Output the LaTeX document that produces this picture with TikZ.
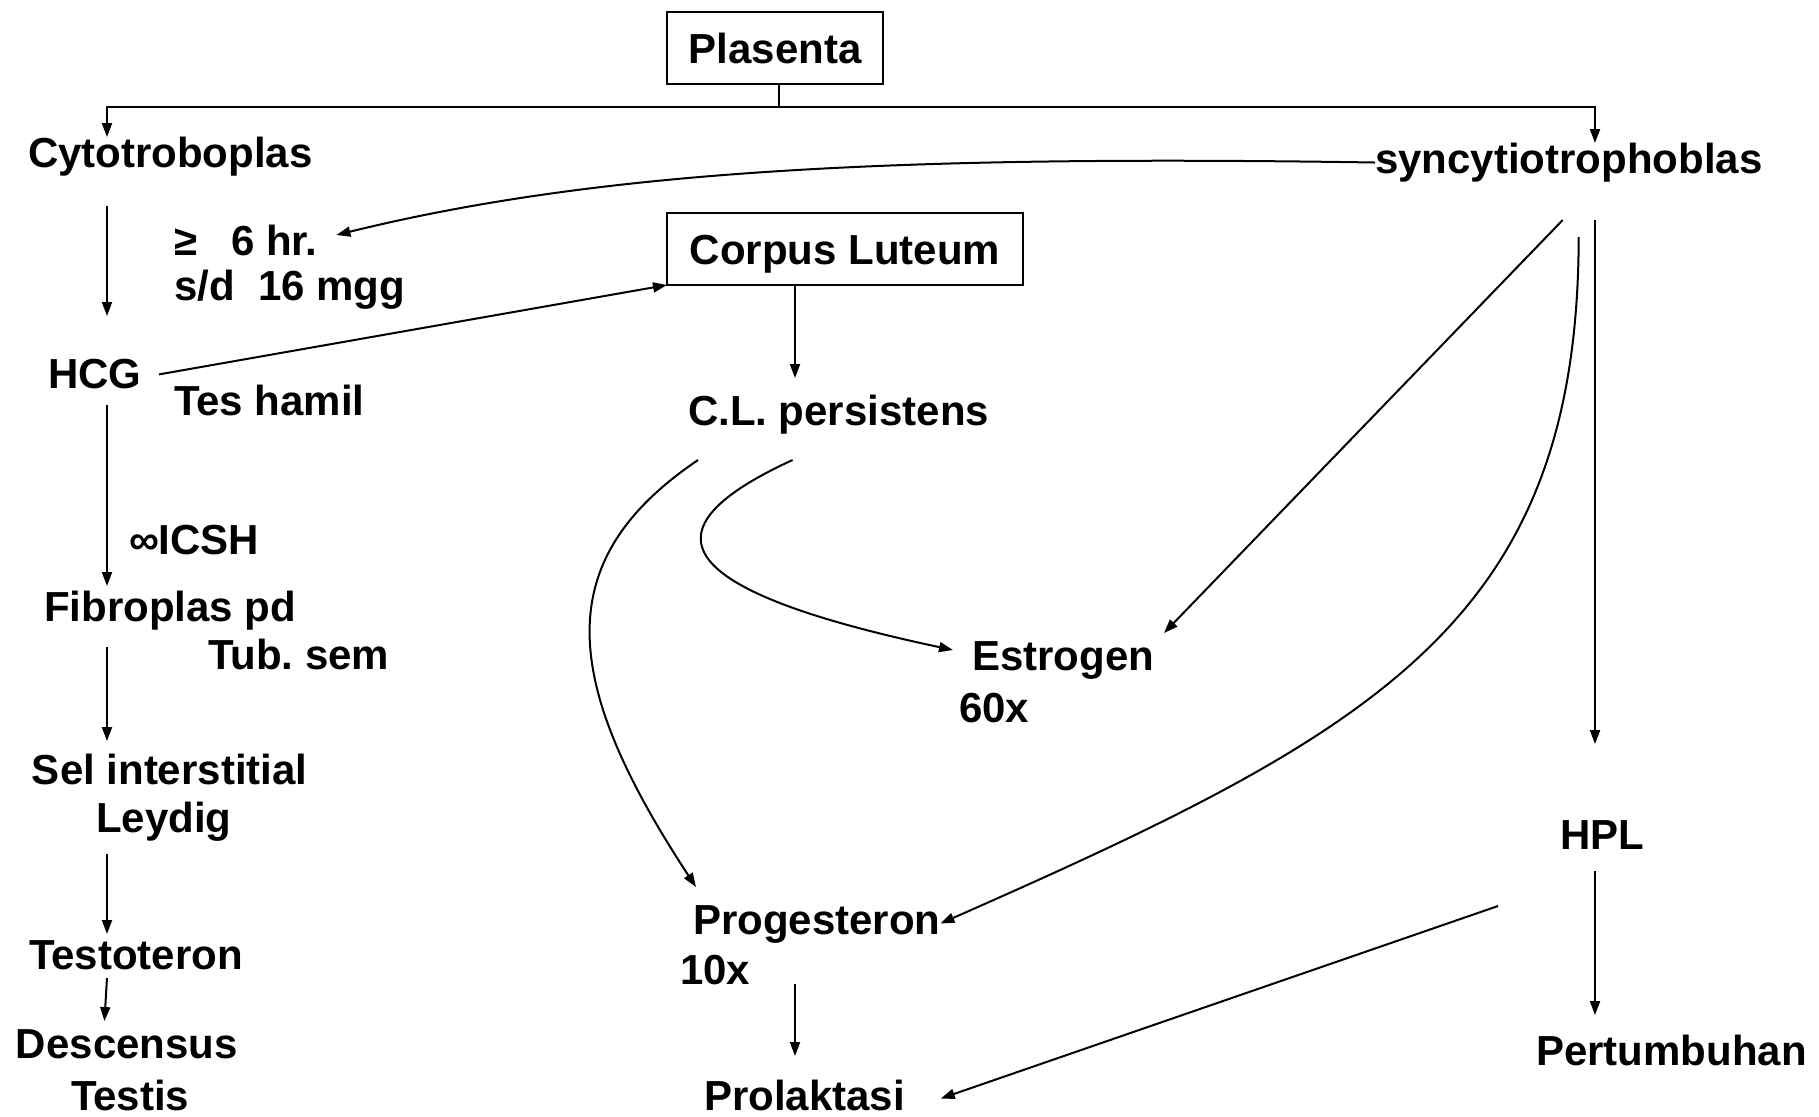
\documentclass[tikz,border=0pt]{standalone}
\usepackage{fontspec}
\setmainfont{Liberation Sans}
\usetikzlibrary{arrows.meta}
\frenchspacing

\tikzset{every picture/.style={line width=1pt}}
\tikzset{
  lbl/.style={anchor=base west, inner sep=0pt, outer sep=0pt, text height=15pt, text depth=4.5pt, font=\fontsize{21pt}{25pt}\selectfont\bfseries},
  boxed/.style={draw, inner sep=0pt, outer sep=0pt, minimum height=36pt, text height=15.5pt, text depth=0pt, font=\fontsize{21pt}{25pt}\selectfont\bfseries},
  arr/.style={-{Triangle[length=7pt,width=5pt]}}
}

\begin{document}
\begin{tikzpicture}[x=0.5pt,y=0.5pt,yscale=-1]
\useasboundingbox (0,0) rectangle (1819,1116);

% columns
\coordinate (colL) at (107,0);
\coordinate (colL2) at (104,0);
\coordinate (colM) at (795,0);
\coordinate (colR) at (1595,0);
\coordinate (bus) at (779,107);

%Shape: Rectangle
\node [boxed, minimum width=108pt] (plasenta) at (775,48) {Plasenta};
%Shape: Rectangle
\node [boxed, minimum width=178pt] (corpus) at (845,249) {Corpus Luteum};

% Text Node
\node [lbl] (cyto) at (28,167) {Cytotroboplas};
% Text Node
\node [lbl] (syncy) at (1375,173) {syncytiotrophoblas};
% Text Node
\node [lbl] (ge6) at (174,255) {≥\hspace{17pt}6 hr.};
% Text Node
\node [lbl] (sd16) at (174,300) {s/d\ \ 16 mgg};
% Text Node
\node [lbl] (hcg) at (48,388) {HCG};
% Text Node
\node [lbl] (tes) at (174,415) {Tes hamil};
% Text Node
\node [lbl] (icsh) at (129,554) {∞ICSH};
% Text Node
\node [lbl] (fibro) at (44,621) {Fibroplas pd};
% Text Node
\node [lbl] (tub) at (208,669) {Tub. sem};
% Text Node
\node [lbl] (sel) at (32,784) {Sel interstitial};
% Text Node
\node [lbl] (leydig) at (96,832) {Leydig};
% Text Node
\node [lbl] (testo) at (29,969) {Testoteron};
% Text Node
\node [lbl] (desc) at (16,1058) {Descensus};
% Text Node
\node [lbl] (testis) at (71,1110) {Testis};
% Text Node
\node [lbl] (clp) at (688,425) {C.L. persistens};
% Text Node
\node [lbl] (estro) at (972,670) {Estrogen};
% Text Node
\node [lbl] (sixty) at (959,722) {60x};
% Text Node
\node [lbl] (proges) at (693,934) {Progesteron};
% Text Node
\node [lbl] (tenx) at (680,984) {10x};
% Text Node
\node [lbl] (prolak) at (704,1110) {Prolaktasi};
% Text Node
\node [lbl] (hpl) at (1560,849) {HPL};
% Text Node
\node [lbl] (pertum) at (1536,1065) {Pertumbuhan};

%Straight Lines
\draw (bus |- plasenta.south) -- (bus);
\draw [arr] (bus) -| (colL |- cyto.north);
\draw [arr] (bus) -| (colR |- syncy.north);
%Straight Lines
\draw [arr, shorten <=15pt, shorten >=21pt] (colL |- cyto.south) -- (colL |- hcg.north);
\draw [arr, shorten <=4pt, shorten >=2.5pt] (colL |- hcg.south) -- (colL |- fibro.north);
\draw [arr, shorten <=8.5pt, shorten >=6.5pt] (colL |- fibro.south) -- (colL |- sel.north);
\draw [arr, shorten <=6.5pt, shorten >=2.5pt] (colL |- leydig.south) -- (colL |- testo.north);
\draw [arr, shorten >=3.5pt] (colL |- testo.south) -- (colL2 |- desc.north);
%Straight Lines
\draw [arr, shorten <=9pt] (hcg.east) -- (corpus.south west);
\draw [arr, shorten >=8.5pt] (colM |- corpus.south) -- (colM |- clp.north);
\draw [arr, shorten <=20.5pt, shorten >=12pt] (colM |- proges.south) -- (colM |- prolak.north);
%Curve Lines
\draw [arr] (syncy.west) .. controls (900,155) and (600,170) .. ([shift={(19,-9.5)}]ge6.east);
\draw [arr] ([shift={(10,26)}]clp.south west) .. controls (550,560) and (560,680) .. ([shift={(3,-17)}]proges.north west);
\draw [arr] ([shift={(-46,26)}]clp.south) .. controls (640,530) and (670,590) .. ([shift={(-19,-9.5)}]estro.west);
%Straight Lines
\draw [arr] ([shift={(-6,38)}]syncy.south) -- ([shift={(10,-7)}]estro.north east);
%Curve Lines
\draw [arr] ([shift={(10,55)}]syncy.south) .. controls (1578,620) and (1380,730) .. (proges.east);
%Straight Lines
\draw [arr, shorten <=19pt, shorten >=37.5pt] (colR |- syncy.south) -- (colR |- hpl.north);
\draw [arr, shorten <=6.5pt, shorten >=10pt] (colR |- hpl.south) -- (colR |- pertum.north);
\draw [arr] ([shift={(-62,48)}]hpl.south west) -- ([shift={(36,-1)}]prolak.east);

\end{tikzpicture}
\end{document}
